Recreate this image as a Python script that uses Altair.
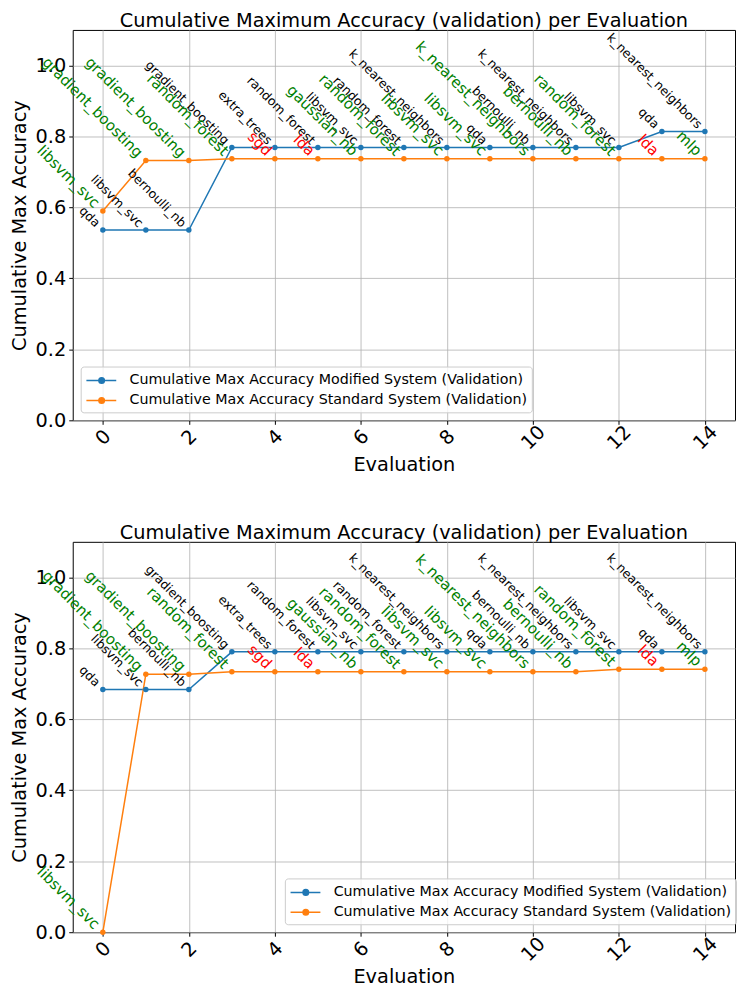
import altair as alt
import pandas as pd

# ---------------- data ----------------
evaluations = [0, 1, 2, 3, 4, 5, 6, 7, 8, 9, 10, 11, 12, 13, 14]

series_names = [
    "Cumulative Max Accuracy Modified System (Validation)",
    "Cumulative Max Accuracy Standard System (Validation)",
]

modified_models = ["qda", "libsvm_svc", "bernoulli_nb", "gradient_boosting", "extra_trees",
                   "random_forest", "libsvm_svc", "random_forest", "k_nearest_neighbors", "qda",
                   "bernoulli_nb", "k_nearest_neighbors", "libsvm_svc", "qda", "k_nearest_neighbors"]
standard_models = ["libsvm_svc", "gradient_boosting", "gradient_boosting", "random_forest", "sgd",
                   "lda", "gaussian_nb", "random_forest", "libsvm_svc", "libsvm_svc",
                   "k_nearest_neighbors", "bernoulli_nb", "random_forest", "lda", "mlp"]
flagged_models = ["sgd", "lda"]

top_modified = [0.536, 0.536, 0.536, 0.769, 0.769, 0.769, 0.769, 0.769, 0.769, 0.769,
                0.769, 0.769, 0.769, 0.814, 0.814]
top_standard = [0.590, 0.732, 0.732, 0.737, 0.737, 0.737, 0.737, 0.737, 0.737, 0.737,
                0.737, 0.737, 0.737, 0.737, 0.737]
bottom_modified = [0.684, 0.684, 0.684, 0.790, 0.790, 0.790, 0.790, 0.790, 0.790, 0.790,
                   0.790, 0.790, 0.790, 0.790, 0.790]
bottom_standard = [0.0, 0.727, 0.727, 0.734, 0.734, 0.734, 0.734, 0.734, 0.734, 0.734,
                   0.734, 0.734, 0.741, 0.741, 0.741]

y_ticks = [0.0, 0.2, 0.4, 0.6, 0.8, 1.0]
x_ticks = [0, 2, 4, 6, 8, 10, 12, 14]

TITLE = "Cumulative Maximum Accuracy (validation) per Evaluation"
FONT = "DejaVu Sans"
BLUE = "#1f77b4"
ORANGE = "#ff7f0e"
W, H = 665, 392

LEGEND_SYMBOL = ("M-0.92,0L2.41,0M0.47,0A0.31,0.31,0,1,0,1.09,0A0.31,0.31,0,1,0,0.47,0Z")


def build_frame(mod_vals, std_vals):
    rows = []
    for i, e in enumerate(evaluations):
        rows.append({"Evaluation": e, "Accuracy": mod_vals[i], "Series": series_names[0],
                     "Model": modified_models[i], "Flag": "normal"})
        rows.append({"Evaluation": e, "Accuracy": std_vals[i], "Series": series_names[1],
                     "Model": standard_models[i],
                     "Flag": "flagged" if standard_models[i] in flagged_models else "normal"})
    return pd.DataFrame(rows)


def panel(mod_vals, std_vals, lx, ly):
    df = build_frame(mod_vals, std_vals)
    x = alt.X("Evaluation:Q", scale=alt.Scale(domain=[-0.7, 14.7], nice=False, zero=False),
              axis=alt.Axis(values=x_ticks, title="Evaluation", labelAngle=-45,
                            labelAlign="center", labelBaseline="middle", labelPadding=13,
                            titlePadding=3, format="d"))
    y = alt.Y("Accuracy:Q", scale=alt.Scale(domain=[0, 1.1], nice=False),
              axis=alt.Axis(values=y_ticks, title="Cumulative Max Accuracy", format=".1f",
                            labelPadding=3, titlePadding=6))
    legend = alt.Legend(title=None, orient="none", legendX=lx, legendY=ly,
                        symbolType=LEGEND_SYMBOL, symbolSize=324, symbolStrokeWidth=1.5,
                        labelFontSize=14.3, labelFont=FONT, labelColor="black", labelLimit=0,
                        labelOffset=25, padding=4, rowPadding=2,
                        fillColor="rgba(255,255,255,0.8)", strokeColor="#cccccc",
                        cornerRadius=3)
    color = alt.Color("Series:N", scale=alt.Scale(domain=series_names, range=[BLUE, ORANGE]),
                      legend=legend)
    base = alt.Chart(df)
    lines = base.mark_line(strokeWidth=1.5).encode(x=x, y=y, color=color, detail="Series:N")
    points = base.mark_circle(size=30, opacity=1).encode(x=x, y=y, color=color)
    mod_text = base.transform_filter(alt.datum.Series == series_names[0]).mark_text(
        angle=45, align="right", baseline="bottom", dx=-7, dy=7, fontSize=12.5, font=FONT,
        color="black").encode(x=x, y=y, text="Model:N")
    std_text = base.transform_filter(alt.datum.Series == series_names[1]).mark_text(
        angle=45, align="right", baseline="bottom", dx=-8, dy=8, fontSize=15, font=FONT
    ).encode(x=x, y=y, text="Model:N",
             fill=alt.Fill("Flag:N", scale=alt.Scale(domain=["normal", "flagged"],
                                                     range=["#008000", "#ff0000"]),
                           legend=None))
    title = alt.Chart(pd.DataFrame({"title": [TITLE]})).mark_text(
        font=FONT, fontSize=19.4, color="black", align="center", baseline="alphabetic"
    ).encode(x=alt.value(W / 2), y=alt.value(-3), text="title:N")
    return alt.layer(lines, points, mod_text, std_text, title).properties(width=W, height=H)


top = panel(top_modified, top_standard, 8, 338)
bottom = panel(bottom_modified, bottom_standard, 213, 338)

chart = alt.vconcat(top, bottom, spacing=122, bounds="flush").resolve_scale(
    color="independent", fill="independent"
).resolve_legend(color="independent").properties(
    padding={"left": 0, "top": 0, "right": 0, "bottom": 0}
).configure_view(stroke="black", strokeWidth=1).configure_axis(
    domain=False, grid=True, gridColor="#b0b0b0", gridWidth=0.8, tickColor="black",
    tickSize=4, labelFont=FONT, labelFontSize=19.4, labelColor="black", titleFont=FONT,
    titleFontSize=19.4, titleFontWeight="normal", titleColor="black"
)

chart.save("out.html", embed_options={"renderer": "svg", "actions": False})
